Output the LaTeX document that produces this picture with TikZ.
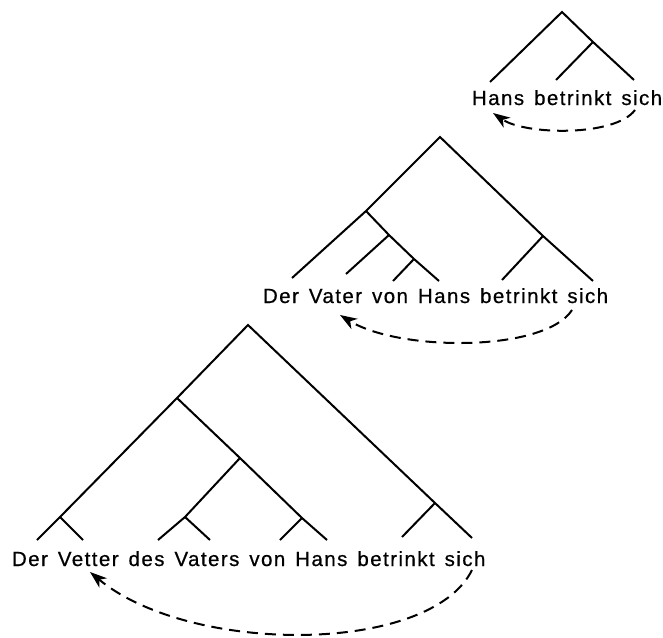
\documentclass[tikz,border=0pt]{standalone}
\usepackage{fontspec}
\setmainfont{Liberation Sans}[LetterSpace=7,WordSpace=1.4,FakeBold=0.6]
\usetikzlibrary{arrows.meta}
\begin{document}
\begin{tikzpicture}[x=1pt,y=-1pt,line width=2pt,
    satz/.style={anchor=base west,inner sep=0pt,font=\fontsize{20.5}{25}\selectfont},
    bewegung/.style={-{Stealth[length=17pt,width=12pt,inset=5pt]},dash pattern=on 11pt off 7pt}]
    \useasboundingbox (0,0) rectangle (663,637);

    % Árbol 1
    \coordinate (t0) at (562,12);
    \coordinate (t1) at (593,42);
    \coordinate (ta) at (490,82);
    \coordinate (tb) at (556,80);
    \coordinate (tc) at (634,80);
    \draw (ta) -- (t0) -- (t1) -- (tc);
    \draw (t1) -- (tb);
    \node[satz] (s1) at (471,105) {Hans betrinkt sich};

    % Árbol 2
    \coordinate (m0) at (440,137);
    \coordinate (m1) at (366,211);
    \coordinate (m2) at (389,235);
    \coordinate (m3) at (414,259);
    \coordinate (m4) at (543,236);
    \coordinate (ma) at (292,278);
    \coordinate (mb) at (346,274);
    \coordinate (mc) at (393,281);
    \coordinate (md) at (439,281);
    \coordinate (me) at (502,280);
    \coordinate (mf) at (593,281);
    \draw (ma) -- (m1) -- (m0) -- (m4) -- (mf);
    \draw (m1) -- (m2) -- (m3) -- (md);
    \draw (m2) -- (mb);
    \draw (m3) -- (mc);
    \draw (m4) -- (me);
    \node[satz] (s2) at (262,303) {Der Vater von Hans betrinkt sich};

    % Árbol 3
    \coordinate (b0) at (248,325);
    \coordinate (b1) at (177,398);
    \coordinate (b2) at (60,517);
    \coordinate (b3) at (240,458);
    \coordinate (b4) at (185,517);
    \coordinate (b5) at (302,518);
    \coordinate (b6) at (435,503);
    \coordinate (ba) at (37,540);
    \coordinate (bb) at (83,540);
    \coordinate (bc) at (158,540);
    \coordinate (bd) at (210,540);
    \coordinate (be) at (280,540);
    \coordinate (bf) at (327,540);
    \coordinate (bg) at (402,537);
    \coordinate (bh) at (472,538);
    \draw (ba) -- (b2) -- (b1) -- (b0) -- (b6) -- (bh);
    \draw (b2) -- (bb);
    \draw (b1) -- (b3) -- (b5) -- (bf);
    \draw (b3) -- (b4) -- (bc);
    \draw (b4) -- (bd);
    \draw (b5) -- (be);
    \draw (b6) -- (bg);
    \node[satz] (s3) at (11,566) {Der Vetter des Vaters von Hans betrinkt sich};

    % Flechas
    \coordinate (p1) at (635,110);
    \coordinate (q1) at (493,113);
    \coordinate (p2) at (572,310);
    \coordinate (q2) at (340,315);
    \coordinate (p3) at (472,570);
    \coordinate (q3) at (90,572);
    \draw[bewegung] (p1) .. controls (615,137) and (525,135) .. (q1);
    \draw[bewegung] (p2) .. controls (545,352) and (400,352) .. (q2);
    \draw[bewegung] (p3) .. controls (430,655) and (190,655) .. (q3);
\end{tikzpicture}
\end{document}
